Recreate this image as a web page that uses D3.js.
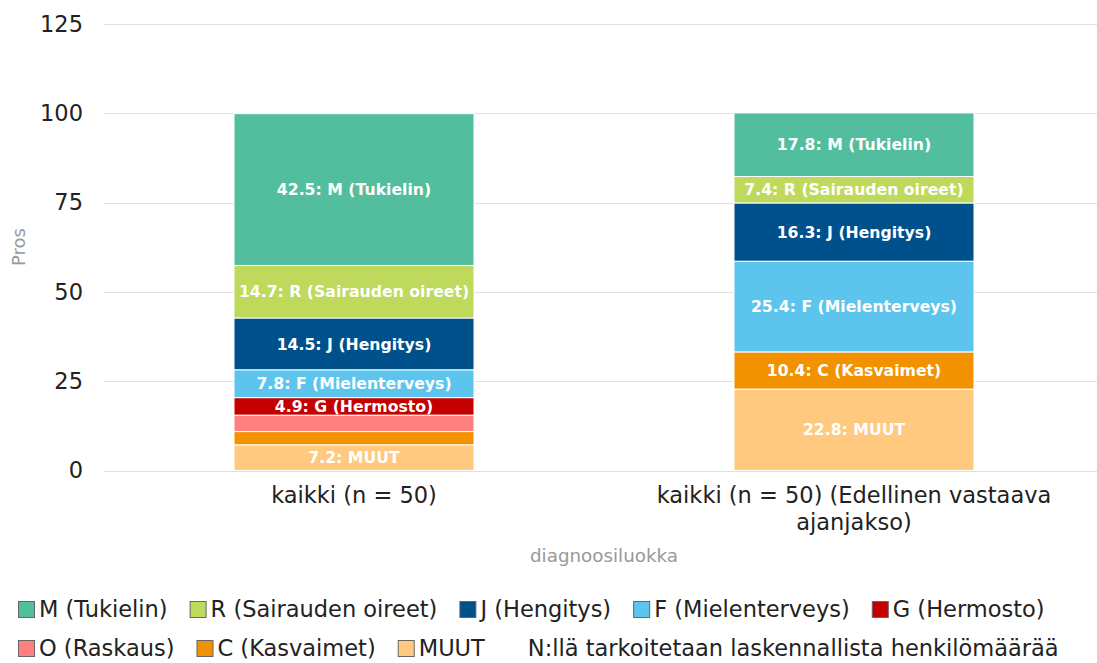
<!DOCTYPE html>
<html lang="fi">
<head>
<meta charset="UTF-8">
<title>diagnoosiluokka</title>
<script src="https://cdn.jsdelivr.net/npm/d3@7"></script>
<style>
body {
	margin: 0;
	background: #fff;
	font-family: "DejaVu Sans", sans-serif;
}
.grid line {
	stroke: #e0e0e0;
	stroke-width: 1px;
}
</style>
</head>
<body>
<svg width="1097" height="663"></svg>
<script>
// data
var categories = ["kaikki (n = 50)", "kaikki (n = 50) (Edellinen vastaava ajanjakso)"];
var seriesNames = ["MUUT", "C (Kasvaimet)", "O (Raskaus)", "G (Hermosto)", "F (Mielenterveys)", "J (Hengitys)", "R (Sairauden oireet)", "M (Tukielin)"];
var seriesColors = ["#ffc97f", "#f29200", "#ff8080", "#c40000", "#5dc5ed", "#00508c", "#bed95c", "#52be9e"];
var valuesMUUT = [7.2, 22.8];
var valuesC = [3.7, 10.4];
var valuesO = [4.6, 0];
var valuesG = [4.9, 0];
var valuesF = [7.8, 25.4];
var valuesJ = [14.5, 16.3];
var valuesR = [14.7, 7.4];
var valuesM = [42.5, 17.8];
var yTicks = [0, 25, 50, 75, 100, 125];
var note = "N:llä tarkoitetaan laskennallista henkilömäärää";
var minLabel = 4.8;

var allValues = [valuesMUUT, valuesC, valuesO, valuesG, valuesF, valuesJ, valuesR, valuesM];

var svg = d3.select("svg");

var x = d3.scaleBand().domain(categories).range([104, 1104]);
var y = d3.scaleLinear().domain([0, 125]).range([470.5, 24]);
var barW = x.bandwidth() * 0.48;
var bigFont = "22.5px";

// gridlines + y labels
var grid = svg.append("g").attr("class", "grid");
grid.selectAll("line").data(yTicks).enter().append("line")
	.attr("x1", 104).attr("x2", 1097)
	.attr("y1", function(d) { return Math.round(y(d)) + 0.5; })
	.attr("y2", function(d) { return Math.round(y(d)) + 0.5; });

var yAxis = svg.append("g")
	.attr("transform", "translate(83,0)")
	.call(d3.axisLeft(y).tickValues(yTicks).tickSize(0).tickPadding(0));
yAxis.select(".domain").remove();
yAxis.selectAll("text").attr("font-size", bigFont).attr("font-family", "DejaVu Sans").attr("fill", "#222");

svg.append("text")
	.attr("transform", "translate(25,247) rotate(-90)")
	.attr("text-anchor", "middle")
	.attr("font-size", "18px")
	.attr("fill", "#999")
	.text("Pros");

// stacks
var rows = categories.map(function(c, i) {
	var r = { cat: c };
	seriesNames.forEach(function(s, j) { r[s] = allValues[j][i]; });
	return r;
});
var stack = d3.stack().keys(seriesNames)(rows);

var layers = svg.selectAll(".layer").data(stack).enter().append("g")
	.attr("class", "layer")
	.attr("fill", function(d, i) { return seriesColors[i]; });

layers.selectAll("rect").data(function(d) { return d.filter(function(p) { return p[1] - p[0] > 0; }); })
	.enter().append("rect")
	.attr("x", function(d) { return x(d.data.cat) + (x.bandwidth() - barW) / 2; })
	.attr("width", barW)
	.attr("y", function(d) { return y(d[1]); })
	.attr("height", function(d) { return y(d[0]) - y(d[1]); })
	.attr("stroke", "#fff")
	.attr("stroke-width", 1);

layers.each(function(layer) {
	var key = layer.key;
	d3.select(this).selectAll("text").data(layer.filter(function(p) { return p[1] - p[0] >= minLabel; }))
		.enter().append("text")
		.attr("x", function(d) { return x(d.data.cat) + x.bandwidth() / 2; })
		.attr("y", function(d) { return (y(d[0]) + y(d[1])) / 2; })
		.attr("dy", "0.36em")
		.attr("text-anchor", "middle")
		.attr("font-size", "15.7px")
		.attr("font-weight", "bold")
		.attr("fill", "#fff")
		.text(function(d) { return (d[1] - d[0]).toFixed(1) + ": " + key; });
});

// x labels
var xl = svg.append("g");
xl.append("text").attr("x", x(categories[0]) + x.bandwidth() / 2).attr("y", 503)
	.attr("text-anchor", "middle").attr("font-size", bigFont).attr("fill", "#222")
	.text(categories[0]);
var lab2 = xl.append("text").attr("text-anchor", "middle").attr("font-size", bigFont).attr("fill", "#222");
lab2.append("tspan").attr("x", x(categories[1]) + x.bandwidth() / 2).attr("y", 503).text("kaikki (n = 50) (Edellinen vastaava");
lab2.append("tspan").attr("x", x(categories[1]) + x.bandwidth() / 2).attr("y", 530).text("ajanjakso)");

svg.append("text").attr("x", 604).attr("y", 562)
	.attr("text-anchor", "middle").attr("font-size", "18.3px").attr("fill", "#999")
	.text("diagnoosiluokka");

// legend
var legendItems = seriesNames.map(function(s, i) { return { name: s, color: seriesColors[i] }; }).reverse();
legendItems.push({ name: note, color: null });
var legendRows = [legendItems.slice(0, 5), legendItems.slice(5)];
var rowY = [609, 648];
legendRows.forEach(function(items, r) {
	var cx = 18;
	items.forEach(function(it) {
		var g = svg.append("g").attr("transform", "translate(" + cx + "," + rowY[r] + ")");
		if (it.color) {
			g.append("rect").attr("x", 0.5).attr("y", -7.5).attr("width", 16).attr("height", 16)
				.attr("fill", it.color).attr("stroke", "#666").attr("stroke-width", 1);
		}
		var t = g.append("text").attr("x", 21).attr("dy", "0.36em")
			.attr("font-size", bigFont).attr("fill", "#222").text(it.name);
		cx += 21 + t.node().getComputedTextLength() + 22;
	});
});
</script>
</body>
</html>
